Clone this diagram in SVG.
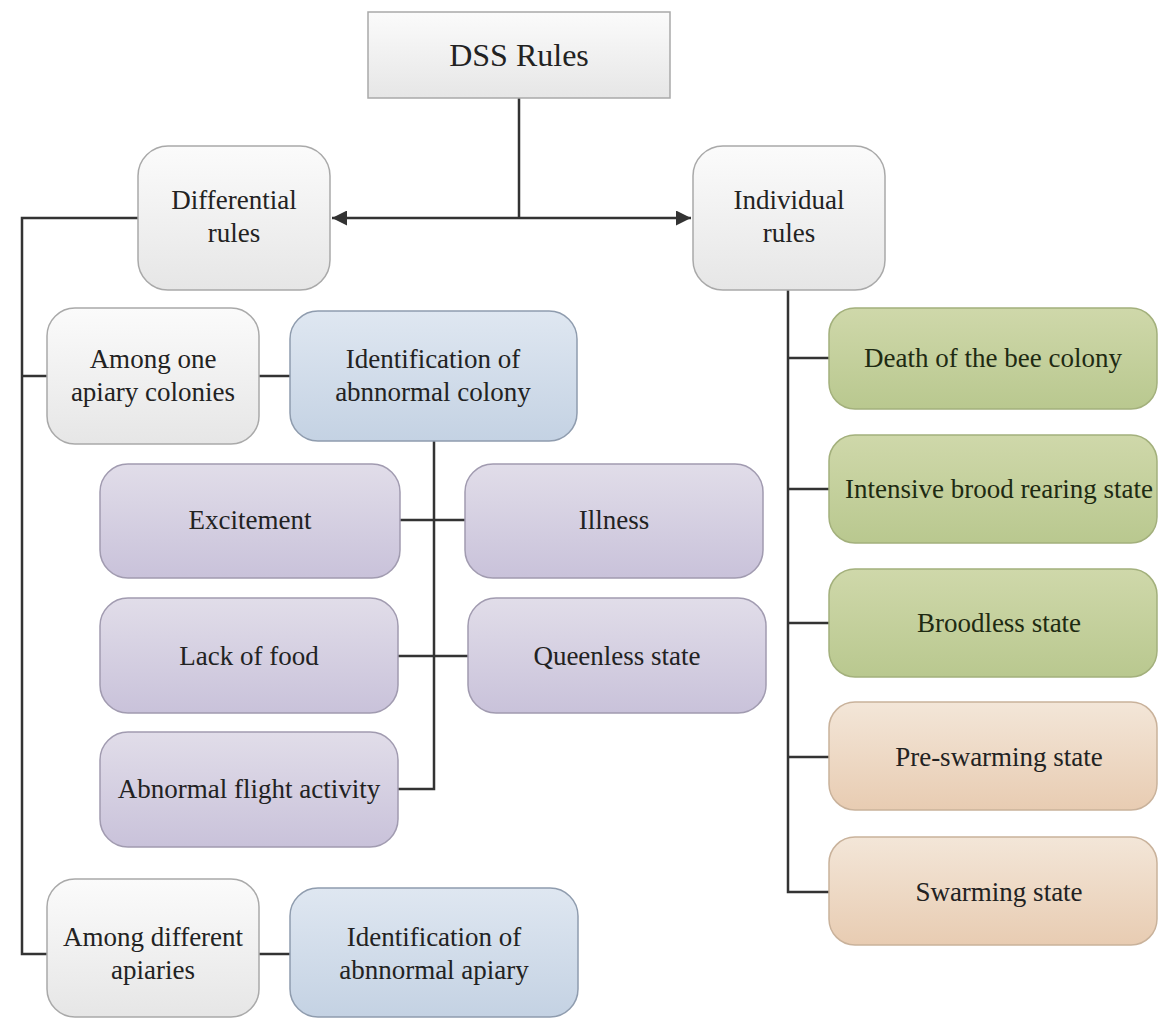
<svg xmlns="http://www.w3.org/2000/svg" width="1158" height="1022" viewBox="0 0 1158 1022">
  <defs>
    <linearGradient id="gGrey" x1="0" y1="0" x2="0" y2="1">
      <stop offset="0" stop-color="#fbfbfb"/>
      <stop offset="1" stop-color="#e6e6e6"/>
    </linearGradient>
    <linearGradient id="gBlue" x1="0" y1="0" x2="0" y2="1">
      <stop offset="0" stop-color="#dfe7f1"/>
      <stop offset="1" stop-color="#c4d2e3"/>
    </linearGradient>
    <linearGradient id="gPurple" x1="0" y1="0" x2="0" y2="1">
      <stop offset="0" stop-color="#e1dde9"/>
      <stop offset="1" stop-color="#c9c2da"/>
    </linearGradient>
    <linearGradient id="gGreen" x1="0" y1="0" x2="0" y2="1">
      <stop offset="0" stop-color="#cfd8aa"/>
      <stop offset="1" stop-color="#b9c88f"/>
    </linearGradient>
    <linearGradient id="gPeach" x1="0" y1="0" x2="0" y2="1">
      <stop offset="0" stop-color="#f3e6d8"/>
      <stop offset="1" stop-color="#e8ccb2"/>
    </linearGradient>
    <marker id="arrow" viewBox="0 0 10 10" refX="10" refY="5" markerWidth="7" markerHeight="6" markerUnits="strokeWidth" orient="auto-start-reverse">
      <path d="M0,0 L10,5 L0,10 z" fill="#333"/>
    </marker>
  </defs>
  <style>
    .lbl { font-family: 'Liberation Serif', 'Times New Roman', 'DejaVu Serif', serif; font-size: 27px; fill: #222; text-anchor: middle; }
    .title { font-size: 32px; }
    .grey { fill: url(#gGrey); stroke: #a9a9a9; stroke-width: 1.5; }
    .blue { fill: url(#gBlue); stroke: #8f9cae; stroke-width: 1.5; }
    .purple { fill: url(#gPurple); stroke: #a19bb0; stroke-width: 1.5; }
    .green { fill: url(#gGreen); stroke: #a3b07c; stroke-width: 1.5; }
    .peach { fill: url(#gPeach); stroke: #c9b29b; stroke-width: 1.5; }
    .green-text { fill: #1e2a12; }
    .conn { fill: none; stroke: #333; stroke-width: 2.5; }
  </style>

  <rect width="1158" height="1022" fill="#ffffff"/>

  <!-- connectors -->
  <g id="connectors">
    <path class="conn" d="M519,98 V218"/>
    <path class="conn" d="M519,218 H332" marker-end="url(#arrow)"/>
    <path class="conn" d="M519,218 H691" marker-end="url(#arrow)"/>
    <!-- differential branch trunk -->
    <path class="conn" d="M138,218 H22 V954 H47"/>
    <path class="conn" d="M22,376 H47"/>
    <path class="conn" d="M259,376 H290"/>
    <path class="conn" d="M259,954 H290"/>
    <!-- abnormal colony causes -->
    <path class="conn" d="M434,441 V789 H398"/>
    <path class="conn" d="M400,520 H465"/>
    <path class="conn" d="M398,656 H468"/>
    <!-- individual rules trunk -->
    <path class="conn" d="M788,290 V892 H829"/>
    <path class="conn" d="M788,358 H829"/>
    <path class="conn" d="M788,489 H829"/>
    <path class="conn" d="M788,623 H829"/>
    <path class="conn" d="M788,757 H829"/>
  </g>

  <g id="dss-rules">
    <rect class="grey" x="368" y="12" width="302" height="86"/>
    <text class="lbl title" x="519" y="66">DSS Rules</text>
  </g>

  <g id="differential-rules">
    <rect class="grey" x="138" y="146" width="192" height="144" rx="30"/>
    <text class="lbl" x="234" y="209">Differential</text>
    <text class="lbl" x="234" y="242">rules</text>
  </g>

  <g id="individual-rules">
    <rect class="grey" x="693" y="146" width="192" height="144" rx="30"/>
    <text class="lbl" x="789" y="209">Individual</text>
    <text class="lbl" x="789" y="242">rules</text>
  </g>

  <g id="among-one-apiary">
    <rect class="grey" x="47" y="308" width="212" height="136" rx="28"/>
    <text class="lbl" x="153" y="368">Among one</text>
    <text class="lbl" x="153" y="401">apiary colonies</text>
  </g>

  <g id="abnormal-colony">
    <rect class="blue" x="290" y="311" width="287" height="130" rx="28"/>
    <text class="lbl" x="433" y="368">Identification of</text>
    <text class="lbl" x="433" y="401">abnnormal colony</text>
  </g>

  <g id="excitement">
    <rect class="purple" x="100" y="464" width="300" height="114" rx="28"/>
    <text class="lbl" x="250" y="529">Excitement</text>
  </g>

  <g id="illness">
    <rect class="purple" x="465" y="464" width="298" height="114" rx="28"/>
    <text class="lbl" x="614" y="529">Illness</text>
  </g>

  <g id="lack-of-food">
    <rect class="purple" x="100" y="598" width="298" height="115" rx="28"/>
    <text class="lbl" x="249" y="665">Lack of food</text>
  </g>

  <g id="queenless-state">
    <rect class="purple" x="468" y="598" width="298" height="115" rx="28"/>
    <text class="lbl" x="617" y="665">Queenless state</text>
  </g>

  <g id="abnormal-flight">
    <rect class="purple" x="100" y="732" width="298" height="115" rx="28"/>
    <text class="lbl" x="249" y="798">Abnormal flight activity</text>
  </g>

  <g id="among-different-apiaries">
    <rect class="grey" x="47" y="879" width="212" height="138" rx="28"/>
    <text class="lbl" x="153" y="946">Among different</text>
    <text class="lbl" x="153" y="979">apiaries</text>
  </g>

  <g id="abnormal-apiary">
    <rect class="blue" x="290" y="888" width="288" height="129" rx="28"/>
    <text class="lbl" x="434" y="946">Identification of</text>
    <text class="lbl" x="434" y="979">abnnormal apiary</text>
  </g>

  <g id="death-of-colony">
    <rect class="green" x="829" y="308" width="328" height="101" rx="26"/>
    <text class="lbl green-text" x="993" y="367">Death of the bee colony</text>
  </g>

  <g id="intensive-brood">
    <rect class="green" x="829" y="435" width="328" height="108" rx="26"/>
    <text class="lbl green-text" x="999" y="498">Intensive brood rearing state</text>
  </g>

  <g id="broodless-state">
    <rect class="green" x="829" y="569" width="328" height="108" rx="26"/>
    <text class="lbl green-text" x="999" y="632">Broodless state</text>
  </g>

  <g id="pre-swarming-state">
    <rect class="peach" x="829" y="702" width="328" height="108" rx="26"/>
    <text class="lbl" x="999" y="766">Pre-swarming state</text>
  </g>

  <g id="swarming-state">
    <rect class="peach" x="829" y="837" width="328" height="108" rx="26"/>
    <text class="lbl" x="999" y="901">Swarming state</text>
  </g>
</svg>
